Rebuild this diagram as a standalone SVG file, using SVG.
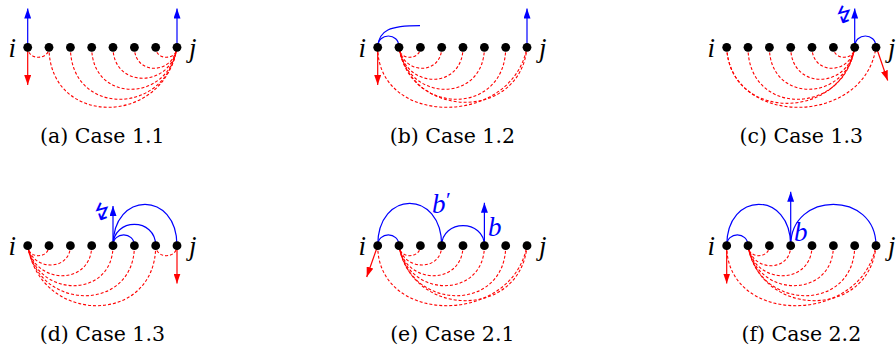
<svg xmlns="http://www.w3.org/2000/svg" width="896" height="349" viewBox="0 0 896 349">
<style>
.n{fill:#000}
.r{fill:none;stroke:#ff0000;stroke-width:1.1;stroke-dasharray:3 2}
.b{fill:none;stroke:#0000ff;stroke-width:1.2}
.ab{fill:none;stroke:#0000ff;stroke-width:1.2;marker-end:url(#mb)}
.ar{fill:none;stroke:#ff0000;stroke-width:1.2;marker-end:url(#mr)}
.m{font-family:"Liberation Serif","Times New Roman",serif;font-style:italic;font-size:27px;fill:#000}
.mb{font-family:"Liberation Serif","Times New Roman",serif;font-style:italic;font-size:27px;fill:#0000ff}
.cap{font-family:"DejaVu Serif",serif;font-size:20.5px;fill:#000;text-anchor:middle}
.z{font-family:"DejaVu Sans",sans-serif;font-size:23px;fill:#0000ff;text-anchor:middle}
</style>
<defs>
<marker id="mb" markerUnits="userSpaceOnUse" viewBox="0 0 10 7" markerWidth="10" markerHeight="7" refX="10" refY="3.5" orient="auto"><path d="M0,0 L10,3.5 L0,7 z" fill="#0000ff"/></marker>
<marker id="mr" markerUnits="userSpaceOnUse" viewBox="0 0 10 7" markerWidth="10" markerHeight="7" refX="10" refY="3.5" orient="auto"><path d="M0,0 L10,3.5 L0,7 z" fill="#ff0000"/></marker>
</defs>

<g id="connectors">
<!-- (a) -->
<path class="r" d="M27.7,47.3 C27.7,60.6 49,60.6 49,47.3"/>
<path class="r" d="M155.7,47.3 C155.7,60.6 177,60.6 177,47.3"/>
<path class="r" d="M134.4,47.3 C134.4,75.3 172.7,75.3 177,47.3"/>
<path class="r" d="M113,47.3 C113,88.6 170.6,88.6 177,47.3"/>
<path class="r" d="M91.7,47.3 C91.7,103.3 168.5,103.3 177,47.3"/>
<path class="r" d="M70.4,47.3 C70.4,116.6 166.3,116.6 177,47.3"/>
<path class="r" d="M49,47.3 C49,127.3 164.2,127.3 177,47.3"/>
<path class="ab" d="M27.7,47.3 L27.7,8.5"/>
<path class="ab" d="M177,47.3 L177,8.5"/>
<path class="ar" d="M27.7,47.3 L27.7,85"/>
<!-- (b) -->
<path class="r" d="M399,47.3 C399,60.6 420.4,60.6 420.4,47.3"/>
<path class="r" d="M441.7,47.3 C441.7,75.3 403.3,75.3 399,47.3"/>
<path class="r" d="M463,47.3 C463,90 405.4,90 399,47.3"/>
<path class="r" d="M484.4,47.3 C484.4,103.3 407.5,103.3 399,47.3"/>
<path class="r" d="M505.7,47.3 C505.7,116.6 409.7,116.6 399,47.3"/>
<path class="r" d="M527,47.3 C520.6,120.6 411.8,120.6 399,47.3"/>
<path class="r" d="M377.7,47.3 C377.7,127.3 512,127.3 527,47.3"/>
<path class="b" d="M377.7,47.3 C377.7,32.2 399,32.2 399,47.3"/>
<path class="b" d="M377.7,47.3 C378.5,30 390,25.7 420,25.7"/>
<path class="ab" d="M527,47.3 L527,8.5"/>
<path class="ar" d="M377.7,47.3 L377.7,85"/>
<!-- (c) -->
<path class="r" d="M833.4,47.3 C833.4,60.6 854.7,60.6 854.7,47.3"/>
<path class="r" d="M812,47.3 C812,75.3 850.4,75.3 854.7,47.3"/>
<path class="r" d="M790.7,47.3 C790.7,90 848.3,90 854.7,47.3"/>
<path class="r" d="M769.4,47.3 C769.4,103.3 846.2,103.3 854.7,47.3"/>
<path class="r" d="M748,47.3 C748,116.6 844,116.6 854.7,47.3"/>
<path class="r" d="M726.7,47.3 C730,122 841.9,122 854.7,47.3"/>
<path class="r" d="M726.7,47.3 C730,127.3 864,127.3 876,47.3"/>
<path class="b" d="M854.7,47.3 C854.7,32.2 876,32.2 876,47.3"/>
<path class="ab" d="M854.7,47.3 L854.7,8.5"/>
<path class="ar" d="M876.3,47.3 L887.7,80.5"/>
<!-- (d) -->
<path class="r" d="M27.7,245.7 C27.7,259 49,259 49,245.7"/>
<path class="r" d="M70.4,245.7 C70.4,271.4 32,271.4 27.7,245.7"/>
<path class="r" d="M91.7,245.7 C91.7,285.7 34.1,285.7 27.7,245.7"/>
<path class="r" d="M113,245.7 C113,299 36.2,299 27.7,245.7"/>
<path class="r" d="M134.4,245.7 C134.4,312.4 38.4,312.4 27.7,245.7"/>
<path class="r" d="M155.7,245.7 C155.7,325.7 40.5,325.7 27.7,245.7"/>
<path class="r" d="M155.7,245.7 C155.7,259 177,259 177,245.7"/>
<path class="b" d="M113,245.7 C113,231.4 134.4,231.4 134.4,245.7"/>
<path class="b" d="M113,245.7 C113,217.4 155.7,217.4 155.7,245.7"/>
<path class="b" d="M113,245.7 C113,190.5 177,190.5 177,245.7"/>
<path class="ab" d="M113,245.7 L113,206"/>
<path class="ar" d="M177,245.7 L177,283.5"/>
<!-- (e) -->
<path class="r" d="M399,245.7 C399,259 420.4,259 420.4,245.7"/>
<path class="r" d="M441.7,245.7 C441.7,271.4 403.3,271.4 399,245.7"/>
<path class="r" d="M463,245.7 C463,285.7 405.4,285.7 399,245.7"/>
<path class="r" d="M484.4,245.7 C484.4,299 407.5,299 399,245.7"/>
<path class="r" d="M505.7,245.7 C505.7,312.4 409.7,312.4 399,245.7"/>
<path class="r" d="M527,245.7 C520.6,319 411.8,319 399,245.7"/>
<path class="r" d="M377.7,245.7 C377.7,325.7 512,325.7 527,245.7"/>
<path class="b" d="M377.7,245.7 C377.7,231.4 399,231.4 399,245.7"/>
<path class="b" d="M377.7,245.7 C377.7,189.2 441.7,189.2 441.7,245.7"/>
<path class="b" d="M441.7,245.7 C441.7,219 484.4,219 484.4,245.7"/>
<path class="ab" d="M484.4,245.7 L484.4,202.7"/>
<path class="ar" d="M377.7,245.7 L366.7,277"/>
<!-- (f) -->
<path class="r" d="M748,245.7 C748,259 769.4,259 769.4,245.7"/>
<path class="r" d="M790.7,245.7 C790.7,272.4 752.3,272.4 748,245.7"/>
<path class="r" d="M812,245.7 C812,285.7 754.4,285.7 748,245.7"/>
<path class="r" d="M833.4,245.7 C833.4,299 756.5,299 748,245.7"/>
<path class="r" d="M854.7,245.7 C854.7,312.4 758.7,312.4 748,245.7"/>
<path class="r" d="M876,245.7 C869.6,319 760.8,319 748,245.7"/>
<path class="r" d="M726.7,245.7 C726.7,325.7 861,325.7 876,245.7"/>
<path class="b" d="M726.7,245.7 C726.7,231.4 748,231.4 748,245.7"/>
<path class="b" d="M726.7,245.7 C726.7,190.5 790.7,190.5 790.7,245.7"/>
<path class="b" d="M790.7,245.7 C790.7,190.5 876,190.5 876,245.7"/>
<path class="ab" d="M790.7,245.7 L790.7,191.7"/>
<path class="ar" d="M726.7,245.7 L726.7,283.5"/>
</g>

<!-- (a) nodes -->
<g id="a0"><circle class="n" cx="27.7" cy="47.3" r="4.4"/><text class="m" x="8.5" y="56.5">i</text></g>
<g id="a1"><circle class="n" cx="49" cy="47.3" r="4.4"/></g>
<g id="a2"><circle class="n" cx="70.4" cy="47.3" r="4.4"/></g>
<g id="a3"><circle class="n" cx="91.7" cy="47.3" r="4.4"/></g>
<g id="a4"><circle class="n" cx="113" cy="47.3" r="4.4"/></g>
<g id="a5"><circle class="n" cx="134.4" cy="47.3" r="4.4"/></g>
<g id="a6"><circle class="n" cx="155.7" cy="47.3" r="4.4"/></g>
<g id="a7"><circle class="n" cx="177" cy="47.3" r="4.4"/><text class="m" x="189" y="56.5">j</text></g>
<text class="cap" x="102.3" y="143.3">(a) Case 1.1</text>

<!-- (b) nodes -->
<g id="b0"><circle class="n" cx="377.7" cy="47.3" r="4.4"/><text class="m" x="358.5" y="56.5">i</text></g>
<g id="b1"><circle class="n" cx="399" cy="47.3" r="4.4"/></g>
<g id="b2"><circle class="n" cx="420.4" cy="47.3" r="4.4"/></g>
<g id="b3"><circle class="n" cx="441.7" cy="47.3" r="4.4"/></g>
<g id="b4"><circle class="n" cx="463" cy="47.3" r="4.4"/></g>
<g id="b5"><circle class="n" cx="484.4" cy="47.3" r="4.4"/></g>
<g id="b6"><circle class="n" cx="505.7" cy="47.3" r="4.4"/></g>
<g id="b7"><circle class="n" cx="527" cy="47.3" r="4.4"/><text class="m" x="539" y="56.5">j</text></g>
<text class="cap" x="452.3" y="143.3">(b) Case 1.2</text>

<!-- (c) nodes -->
<g id="c0"><circle class="n" cx="726.7" cy="47.3" r="4.4"/><text class="m" x="707.5" y="56.5">i</text></g>
<g id="c1"><circle class="n" cx="748" cy="47.3" r="4.4"/></g>
<g id="c2"><circle class="n" cx="769.4" cy="47.3" r="4.4"/></g>
<g id="c3"><circle class="n" cx="790.7" cy="47.3" r="4.4"/></g>
<g id="c4"><circle class="n" cx="812" cy="47.3" r="4.4"/></g>
<g id="c5"><circle class="n" cx="833.4" cy="47.3" r="4.4"/></g>
<g id="c6"><circle class="n" cx="854.7" cy="47.3" r="4.4"/><text class="z" x="844" y="23" transform="rotate(15 844 15)">↯</text></g>
<g id="c7"><circle class="n" cx="876" cy="47.3" r="4.4"/><text class="m" x="888" y="56.5">j</text></g>
<text class="cap" x="801.3" y="143.3">(c) Case 1.3</text>

<!-- (d) nodes -->
<g id="d0"><circle class="n" cx="27.7" cy="245.7" r="4.4"/><text class="m" x="8.5" y="255">i</text></g>
<g id="d1"><circle class="n" cx="49" cy="245.7" r="4.4"/></g>
<g id="d2"><circle class="n" cx="70.4" cy="245.7" r="4.4"/></g>
<g id="d3"><circle class="n" cx="91.7" cy="245.7" r="4.4"/></g>
<g id="d4"><circle class="n" cx="113" cy="245.7" r="4.4"/><text class="z" x="102" y="220" transform="rotate(15 102 212)">↯</text></g>
<g id="d5"><circle class="n" cx="134.4" cy="245.7" r="4.4"/></g>
<g id="d6"><circle class="n" cx="155.7" cy="245.7" r="4.4"/></g>
<g id="d7"><circle class="n" cx="177" cy="245.7" r="4.4"/><text class="m" x="189" y="255">j</text></g>
<text class="cap" x="102.3" y="340.7">(d) Case 1.3</text>

<!-- (e) nodes -->
<g id="e0"><circle class="n" cx="377.7" cy="245.7" r="4.4"/><text class="m" x="358.5" y="255">i</text></g>
<g id="e1"><circle class="n" cx="399" cy="245.7" r="4.4"/></g>
<g id="e2"><circle class="n" cx="420.4" cy="245.7" r="4.4"/></g>
<g id="e3"><circle class="n" cx="441.7" cy="245.7" r="4.4"/><text class="mb" x="432" y="212.7">b<tspan font-style="normal" font-size="22" dx="0.5" dy="-6">′</tspan></text></g>
<g id="e4"><circle class="n" cx="463" cy="245.7" r="4.4"/></g>
<g id="e5"><circle class="n" cx="484.4" cy="245.7" r="4.4"/></g>
<g id="e6"><circle class="n" cx="505.7" cy="245.7" r="4.4"/></g>
<g id="e7"><circle class="n" cx="527" cy="245.7" r="4.4"/><text class="m" x="539" y="255">j</text></g>
<text class="mb" x="488" y="236">b</text>
<text class="cap" x="452.3" y="340.7">(e) Case 2.1</text>

<!-- (f) nodes -->
<g id="f0"><circle class="n" cx="726.7" cy="245.7" r="4.4"/><text class="m" x="707.5" y="255">i</text></g>
<g id="f1"><circle class="n" cx="748" cy="245.7" r="4.4"/></g>
<g id="f2"><circle class="n" cx="769.4" cy="245.7" r="4.4"/></g>
<g id="f3"><circle class="n" cx="790.7" cy="245.7" r="4.4"/><text class="mb" x="794" y="241">b</text></g>
<g id="f4"><circle class="n" cx="812" cy="245.7" r="4.4"/></g>
<g id="f5"><circle class="n" cx="833.4" cy="245.7" r="4.4"/></g>
<g id="f6"><circle class="n" cx="854.7" cy="245.7" r="4.4"/></g>
<g id="f7"><circle class="n" cx="876" cy="245.7" r="4.4"/><text class="m" x="888" y="255">j</text></g>
<text class="cap" x="801.3" y="340.7">(f) Case 2.2</text>
</svg>
